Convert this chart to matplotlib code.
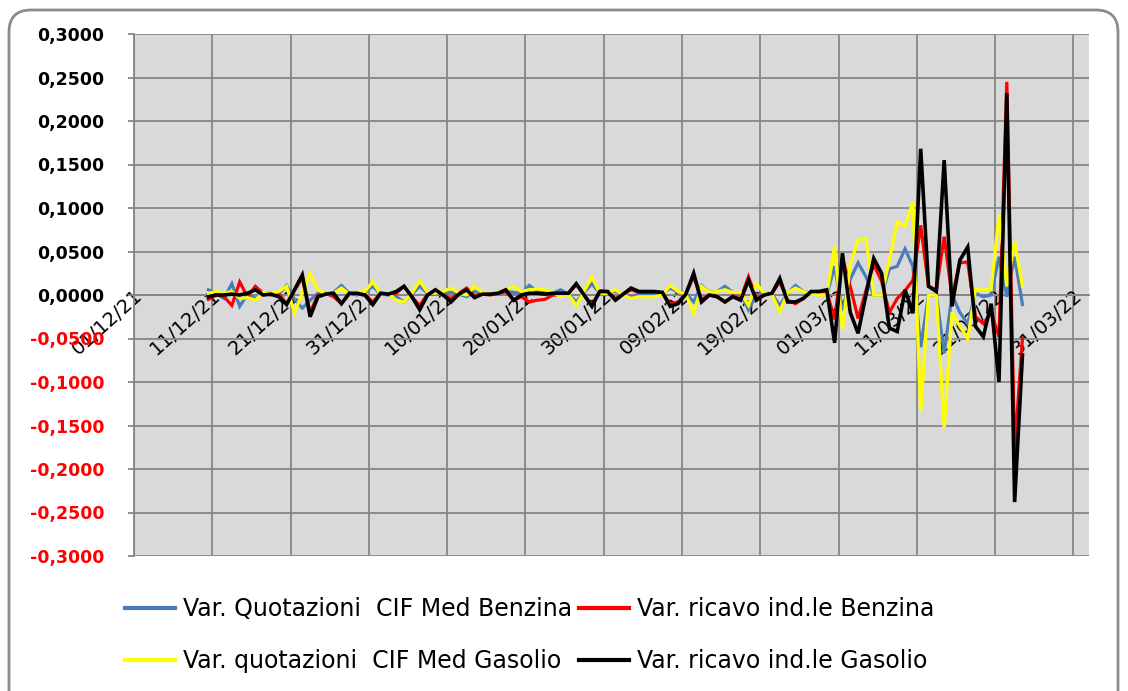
import matplotlib
matplotlib.use('Agg')
import matplotlib.pyplot as plt
import pandas as pd
from matplotlib.patches import FancyBboxPatch
from matplotlib.lines import Line2D
from matplotlib.transforms import IdentityTransform, ScaledTranslation

# date giornaliere (10/12/21 - 24/03/22)
dates = pd.date_range('2021-12-10', '2022-03-24', freq='D')

quot_benzina = [
    0.006, 0.002, -0.004, 0.013, -0.013, 0.001, -0.004, 0.003, 0.002, 0.001,
    0.011, -0.005, -0.015, -0.006, 0.002, 0.001, 0.003, 0.011, 0.002, 0.000,
    0.003, 0.010, 0.001, 0.000, -0.002, -0.008, 0.001, 0.010, 0.002, 0.001,
    0.002, 0.003, 0.001, -0.002, 0.004, 0.002, 0.001, 0.002, 0.004, 0.003,
    0.002, 0.011, 0.004, 0.003, 0.002, 0.006, 0.001, -0.008, 0.003, 0.013,
    0.002, 0.003, 0.004, 0.001, -0.002, 0.001, 0.000, 0.001, 0.002, 0.008,
    0.003, 0.002, -0.008, 0.011, 0.003, 0.004, 0.010, 0.003, 0.002, -0.017,
    0.000, 0.002, 0.001, -0.012, 0.002, 0.011, 0.004, 0.002, 0.001, 0.000,
    0.033, -0.018, 0.018, 0.037, 0.021, 0.000, 0.000, 0.030, 0.033, 0.053,
    0.033, -0.060, 0.000, 0.000, -0.067, 0.000, -0.020, -0.033, 0.002, -0.002,
    0.000, 0.044, -0.002, 0.044, -0.011]

ricavo_benzina = [
    -0.005, 0.000, -0.002, -0.012, 0.015, -0.002, 0.010, 0.002, 0.000, 0.001,
    -0.010, 0.005, 0.020, -0.020, 0.000, 0.002, -0.002, -0.010, 0.001, 0.002,
    0.000, -0.008, 0.002, 0.001, 0.002, 0.010, -0.002, -0.012, 0.001, 0.004,
    0.000, -0.004, 0.002, 0.008, -0.001, 0.001, 0.000, 0.002, 0.004, -0.006,
    -0.002, -0.008, -0.006, -0.005, 0.000, 0.000, 0.002, 0.012, 0.000, -0.012,
    0.005, 0.004, -0.004, 0.001, 0.006, 0.003, 0.003, 0.003, 0.002, -0.010,
    -0.008, 0.002, 0.021, -0.005, 0.000, -0.002, -0.008, -0.001, -0.004, 0.021,
    -0.004, 0.000, 0.002, 0.015, -0.006, -0.010, -0.004, 0.004, 0.004, 0.004,
    -0.028, 0.042, 0.010, -0.027, 0.005, 0.035, 0.016, -0.020, -0.004, 0.005,
    0.017, 0.080, 0.010, 0.006, 0.067, -0.002, 0.037, 0.038, -0.025, -0.033,
    -0.020, -0.048, 0.245, -0.178, -0.050]

quot_gasolio = [
    0.002, 0.004, 0.002, 0.004, -0.004, -0.003, -0.006, 0.003, 0.002, 0.004,
    0.010, -0.021, 0.003, 0.025, 0.006, 0.001, 0.002, 0.008, 0.001, 0.003,
    0.004, 0.015, 0.001, 0.002, -0.006, -0.008, 0.002, 0.016, 0.003, 0.002,
    0.004, 0.008, 0.002, 0.000, 0.010, 0.003, 0.002, 0.003, 0.006, 0.010,
    0.004, 0.006, 0.007, 0.006, 0.003, -0.002, 0.001, -0.012, 0.004, 0.021,
    0.002, 0.002, 0.006, 0.000, -0.004, -0.002, -0.002, -0.002, 0.000, 0.011,
    0.004, 0.001, -0.021, 0.010, 0.003, 0.004, 0.006, 0.003, 0.003, -0.012,
    0.013, 0.002, 0.000, -0.019, 0.003, 0.008, 0.004, 0.001, 0.000, 0.000,
    0.056, -0.040, 0.035, 0.063, 0.065, 0.000, 0.000, 0.040, 0.084, 0.079,
    0.107, -0.134, 0.000, 0.000, -0.153, -0.020, -0.036, -0.050, 0.006, 0.006,
    0.006, 0.092, 0.010, 0.061, 0.010]

ricavo_gasolio = [
    -0.002, 0.000, 0.000, 0.001, 0.000, 0.002, 0.006, 0.000, 0.001, -0.002,
    -0.011, 0.006, 0.023, -0.025, -0.002, 0.001, 0.002, -0.010, 0.002, 0.002,
    0.000, -0.011, 0.002, 0.001, 0.004, 0.010, -0.002, -0.017, 0.000, 0.006,
    0.000, -0.008, 0.001, 0.006, -0.003, 0.001, 0.001, 0.002, 0.006, -0.006,
    0.000, 0.002, 0.002, 0.001, 0.002, 0.002, 0.002, 0.013, 0.000, -0.013,
    0.004, 0.004, -0.006, 0.001, 0.008, 0.004, 0.004, 0.004, 0.003, -0.013,
    -0.010, 0.001, 0.025, -0.008, 0.000, -0.002, -0.008, -0.002, -0.006, 0.017,
    -0.006, 0.000, 0.002, 0.019, -0.008, -0.008, -0.004, 0.004, 0.004, 0.006,
    -0.055, 0.048, -0.020, -0.044, 0.000, 0.042, 0.025, -0.038, -0.042, 0.006,
    -0.021, 0.168, 0.010, 0.004, 0.155, -0.013, 0.040, 0.055, -0.036, -0.048,
    -0.010, -0.100, 0.232, -0.238, -0.069]

labels = ['Var. Quotazioni  CIF Med Benzina', 'Var. ricavo ind.le Benzina',
          'Var. quotazioni  CIF Med Gasolio', 'Var. ricavo ind.le Gasolio']
colors = ['#4a7ebb', '#ff0000', '#ffff00', '#000000']
widths = [2.3, 2.3, 2.3, 2.6]

W, H = 1128, 691
fig = plt.figure(figsize=(W / 100, H / 100), dpi=100)
ax = fig.add_axes([134 / W, 1 - 556 / H, (1089 - 134) / W, (556 - 34) / H])
ax.set_facecolor('#d9d9d9')

# punti a metà giornata (come Excel "tra i segni di graduazione")
x = dates + pd.Timedelta(hours=12)
series = [quot_benzina, ricavo_benzina, quot_gasolio, ricavo_gasolio]
for vals, c, lw in zip(series, colors, widths):
    ax.plot(x, vals, color=c, lw=lw, solid_joinstyle='miter', zorder=3)

ax.set_xlim(pd.Timestamp('2021-12-01'), pd.Timestamp('2022-04-02'))
ax.set_ylim(-0.3, 0.3)

ticks = pd.date_range('2021-12-01', '2022-03-31', freq='10D')
ax.set_xticks(ticks)
ax.set_xticklabels([t.strftime('%d/%m/%y') for t in ticks])
ax.tick_params(axis='x', length=0, pad=0, labelrotation=42, labelsize=14)

yt = [i * 0.05 for i in range(-6, 7)]
ax.set_yticks(yt)
ax.set_yticklabels([f'{v:.4f}'.replace('.', ',').replace('-0,0000', '0,0000') for v in yt],
                   fontsize=12.5, fontweight='bold')
ax.tick_params(axis='y', length=4.5, width=1.3, color='#868686', pad=17)

ax.grid(True, color='#868686', lw=1.3)
ax.set_axisbelow(True)
for s in ['top', 'right']:
    ax.spines[s].set_visible(False)
ax.spines['left'].set_color('#868686')
ax.spines['left'].set_linewidth(1.3)
ax.spines['bottom'].set_position(('data', 0))
ax.spines['bottom'].set_color('#868686')
ax.spines['bottom'].set_linewidth(1.3)

# legenda: colonne Benzina/Gasolio
order = [0, 2, 1, 3]
handles = [Line2D([], [], color=colors[i], lw=3) for i in order]
fig.legend(handles, [labels[i] for i in order], loc='upper left',
           bbox_to_anchor=(125 / W, 1 - 597 / H), ncol=2, frameon=False,
           fontsize=17, handlelength=2.1, handletextpad=0.35,
           columnspacing=0.3, labelspacing=1.2, borderpad=0, borderaxespad=0)

# cornice arrotondata
frame = FancyBboxPatch((9, -30), 1109, H - 10 + 30,
                       boxstyle='round,pad=0,rounding_size=22',
                       transform=IdentityTransform(), fill=False,
                       ec='#8c8c8c', lw=2)
fig.patches.append(frame)

fig.canvas.draw()
shift = ScaledTranslation(6 / 100, 2 / 100, fig.dpi_scale_trans)
for lab in ax.get_xticklabels():
    lab.set_rotation(42)
    lab.set_fontsize(14)
    lab.set_ha('right')
    lab.set_va('center')
    lab.set_rotation_mode('anchor')
    lab.set_transform(lab.get_transform() + shift)
for lab in ax.get_yticklabels():
    lab.set_color('red' if lab.get_text().startswith('-') else 'black')

fig.savefig('out.png', dpi=100)
